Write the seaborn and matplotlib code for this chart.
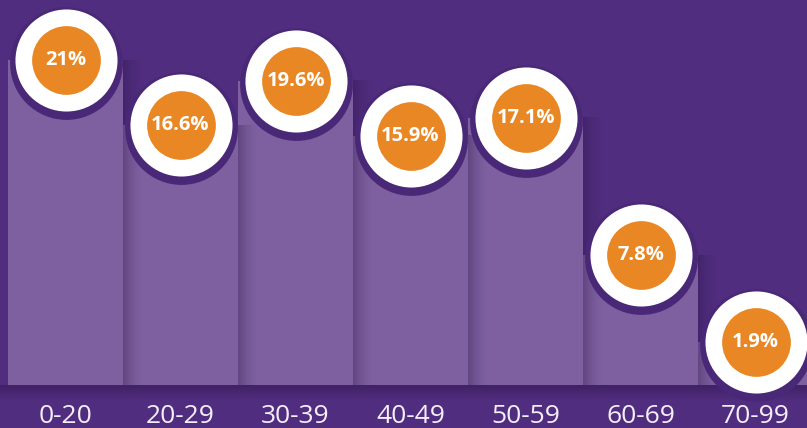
import numpy as np
import pandas as pd
import matplotlib.pyplot as plt
import seaborn as sns

# age groups and share of each
age_groups = ['0-20', '20-29', '30-39', '40-49', '50-59', '60-69', '70-99']
share = [21.0, 16.6, 19.6, 15.9, 17.1, 7.8, 1.9]
share_labels = ['21%', '16.6%', '19.6%', '15.9%', '17.1%', '7.8%', '1.9%']

BG = '#502d7e'
BAR = '#7e60a0'
RING = '#4a2878'
ORANGE = '#e88723'
BASE = -1.0   # bars start a little below zero

df = pd.DataFrame({'age': age_groups, 'share': share})
df['height'] = df['share'] - BASE

sns.set_theme(style='white')
plt.rcParams['font.family'] = ['Open Sans', 'DejaVu Sans']

fig = plt.figure(figsize=(8.07, 4.28), dpi=100, facecolor=BG)
ax = fig.add_axes([0, 0, 1, 1])
ax.set_facecolor(BG)

sns.barplot(data=df, x='age', y='height', bottom=BASE, color=BAR, width=1.0,
            saturation=1, linewidth=0, edgecolor=BAR, ax=ax, zorder=2)

# soft shadow cast by each column onto its right neighbour
n = 40
shade = (0.16, 0.07, 0.26)
grad = np.zeros((1, n, 4))
grad[..., :3] = shade
grad[0, :, 3] = np.linspace(0.5, 0.0, n) ** 1.6
for i, v in enumerate(share[:-1]):
    ax.imshow(grad, extent=[i + 0.5, i + 0.68, BASE, v], aspect='auto',
              zorder=3, interpolation='bilinear')

# dark band just under the baseline
band = np.zeros((n, 1, 4))
band[..., :3] = shade
band[:, 0, 3] = np.linspace(0.4, 0.0, n)
ax.imshow(band, extent=[-0.6, 6.5, BASE - 1.0, BASE], aspect='auto',
          zorder=1, interpolation='bilinear')

# badges (dark ring sits a touch lower, like a drop shadow)
pts = pd.DataFrame({'x': range(len(share)), 'y': share})
ring = pts.assign(y=pts['y'] - 0.22)
sns.scatterplot(data=ring, x='x', y='y', s=6600, color=RING, linewidth=0,
                ax=ax, zorder=4, legend=False)
sns.scatterplot(data=pts, x='x', y='y', s=5400, color='white', linewidth=0,
                ax=ax, zorder=5, legend=False)
sns.scatterplot(data=pts, x='x', y='y', s=2450, color=ORANGE, linewidth=0,
                ax=ax, zorder=6, legend=False)

for i, (v, lab) in enumerate(zip(share, share_labels)):
    ax.text(i, v, lab, ha='center', va='center', color='white',
            fontsize=14.5, fontweight='bold', zorder=7)

for i, g in enumerate(age_groups):
    ax.text(i, -3.15, g, ha='center', va='center', color='#f4eefa',
            fontsize=19, zorder=7)

ax.set_xlim(-0.5 - 8 / 115, -0.5 + 799 / 115)
ax.set_ylim(-3.91, 25.08)
ax.axis('off')

fig.savefig('out.png', dpi=100, facecolor=BG)
